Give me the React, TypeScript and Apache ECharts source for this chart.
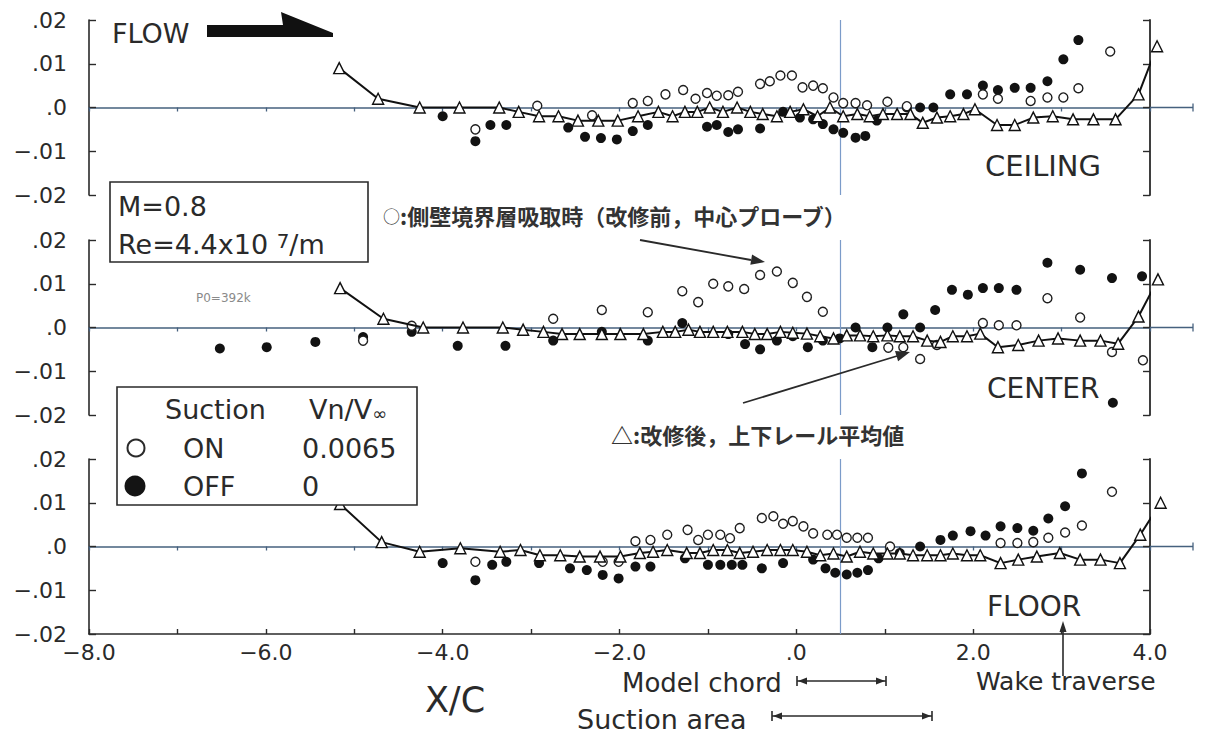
import React, { useEffect, useRef } from "react";
import * as echarts from "echarts";

// ---------- data (x = X/C, y = value) ----------
const ceilingOn: [number, number][] = [
  [-3.63, -0.005], [-2.93, 0.0004], [-2.31, -0.0018], [-1.85, 0.001], [-1.68, 0.0015], [-1.48, 0.003],
  [-1.28, 0.004], [-1.14, 0.002], [-1.01, 0.0033], [-0.9, 0.0027], [-0.77, 0.0028], [-0.66, 0.0036],
  [-0.41, 0.0054], [-0.3, 0.006], [-0.18, 0.0073], [-0.05, 0.0073], [0.07, 0.0046], [0.19, 0.005],
  [0.3, 0.0044], [0.42, 0.0023], [0.53, 0.001], [0.67, 0.001], [0.8, 0.0005], [1.03, 0.0013],
  [1.25, 0.0003], [2.11, 0.003], [2.28, 0.002], [2.65, 0.0015], [2.84, 0.0023], [3.02, 0.0023],
  [3.19, 0.0044], [3.55, 0.0128],
];
const ceilingOff: [number, number][] = [
  [-4.0, -0.002], [-3.63, -0.0077], [-3.46, -0.004], [-3.28, -0.004], [-2.58, -0.0046], [-2.39, -0.0067],
  [-2.21, -0.007], [-2.03, -0.0073], [-1.85, -0.0054], [-1.68, -0.004], [-1.01, -0.0044], [-0.9, -0.004],
  [-0.77, -0.0056], [-0.66, -0.005], [-0.41, -0.0048], [-0.15, -0.001], [0.04, -0.0023], [0.19, -0.0027],
  [0.3, -0.0038], [0.42, -0.005], [0.53, -0.0058], [0.67, -0.0069], [0.78, -0.0065], [0.91, -0.003],
  [1.25, 0.0], [1.4, 0.0], [1.55, 0.0], [1.74, 0.003], [1.93, 0.003], [2.11, 0.005], [2.28, 0.004],
  [2.47, 0.0045], [2.65, 0.0045], [2.84, 0.006], [3.02, 0.011], [3.19, 0.0154],
];
const ceilingAfter: [number, number][] = [
  [-5.17, 0.009], [-4.73, 0.002], [-4.26, 0.0], [-3.81, 0.0], [-3.36, 0.0], [-3.14, -0.001], [-2.91, -0.002],
  [-2.69, -0.002], [-2.47, -0.003], [-2.24, -0.003], [-2.02, -0.003], [-1.79, -0.002], [-1.56, -0.001],
  [-1.4, -0.002], [-1.26, -0.001], [-1.12, -0.001], [-0.98, 0.0], [-0.83, -0.001], [-0.67, 0.0],
  [-0.52, -0.001], [-0.38, -0.0015], [-0.22, -0.002], [-0.07, -0.001], [0.08, -0.0004], [0.24, -0.002],
  [0.38, 0.0], [0.53, -0.002], [0.69, -0.0015], [0.83, -0.002], [0.98, -0.0015], [1.14, -0.0015],
  [1.29, -0.0015], [1.43, -0.0035], [1.59, -0.0023], [1.74, -0.002], [1.89, -0.0015], [2.02, -0.0004],
  [2.27, -0.004], [2.47, -0.004], [2.68, -0.0023], [2.9, -0.002], [3.13, -0.0027], [3.36, -0.0027],
  [3.61, -0.0027], [3.87, 0.003], [4.08, 0.014],
];

const centerOn: [number, number][] = [
  [-4.9, -0.003], [-4.35, 0.0004], [-2.75, 0.002], [-2.2, 0.004], [-1.68, 0.0035], [-1.29, 0.0083],
  [-1.11, 0.0058], [-0.94, 0.01], [-0.77, 0.0094], [-0.59, 0.0088], [-0.41, 0.012], [-0.22, 0.0128],
  [-0.04, 0.0102], [0.12, 0.007], [0.3, 0.0036], [1.04, -0.0046], [1.21, -0.0045], [1.4, -0.0072],
  [1.59, -0.004], [2.11, 0.001], [2.29, 0.0005], [2.49, 0.0005], [2.84, 0.0067], [3.21, 0.0023],
  [3.57, -0.0056], [3.92, -0.0075],
];
const centerOff: [number, number][] = [
  [-6.52, -0.0048], [-5.99, -0.0045], [-5.44, -0.0033], [-4.9, -0.0022], [-4.35, -0.001], [-3.83, -0.0042],
  [-3.29, -0.0042], [-2.75, -0.003], [-2.2, -0.001], [-1.68, -0.003], [-1.29, 0.001], [-0.77, -0.0015],
  [-0.58, -0.0038], [-0.41, -0.005], [-0.22, -0.003], [-0.04, -0.002], [0.13, -0.0045], [0.3, -0.003],
  [0.49, -0.0025], [0.67, 0.0], [0.86, -0.0045], [1.03, 0.0], [1.21, 0.003], [1.4, 0.0], [1.57, 0.004],
  [1.76, 0.0086], [1.94, 0.0075], [2.11, 0.009], [2.29, 0.009], [2.49, 0.0086], [2.84, 0.0148],
  [3.21, 0.0132], [3.57, 0.0113], [3.58, -0.0172], [3.91, 0.0117],
];
const centerAfter: [number, number][] = [
  [-5.16, 0.009], [-4.67, 0.002], [-4.22, 0.0], [-3.77, 0.0], [-3.32, 0.0], [-3.09, -0.0005], [-2.86, -0.001],
  [-2.65, -0.0015], [-2.45, -0.0015], [-2.2, -0.0015], [-1.99, -0.0015], [-1.73, -0.0015], [-1.51, -0.001],
  [-1.37, -0.001], [-1.22, -0.0005], [-1.09, -0.001], [-0.94, -0.001], [-0.78, -0.001], [-0.61, -0.001],
  [-0.47, -0.0015], [-0.33, -0.0015], [-0.18, -0.001], [-0.04, -0.0012], [0.12, -0.0014], [0.27, -0.002],
  [0.42, -0.0025], [0.57, -0.0018], [0.72, -0.0018], [0.87, -0.002], [1.03, -0.0018], [1.17, -0.002],
  [1.32, -0.002], [1.48, -0.003], [1.63, -0.0033], [1.77, -0.002], [1.93, -0.002], [2.08, -0.0014],
  [2.28, -0.0045], [2.51, -0.004], [2.74, -0.003], [2.96, -0.0025], [3.21, -0.003], [3.44, -0.003],
  [3.64, -0.0037], [3.87, 0.0025], [4.09, 0.011],
];

const floorOn: [number, number][] = [
  [-3.63, -0.0035], [-2.19, -0.0035], [-2.01, -0.0035], [-1.82, 0.0012], [-1.65, 0.0015], [-1.46, 0.0027],
  [-1.23, 0.0038], [-1.11, 0.0015], [-1.0, 0.0027], [-0.86, 0.0027], [-0.75, 0.0019], [-0.64, 0.0042],
  [-0.39, 0.0065], [-0.26, 0.0069], [-0.15, 0.0052], [-0.04, 0.0058], [0.08, 0.0046], [0.19, 0.003],
  [0.35, 0.0027], [0.46, 0.0027], [0.57, 0.002], [0.69, 0.002], [0.81, 0.002], [1.06, 0.0],
  [2.31, 0.0008], [2.5, 0.0008], [2.68, 0.001], [2.85, 0.002], [3.04, 0.0032], [3.23, 0.0048],
  [3.57, 0.0125],
];
const floorOff: [number, number][] = [
  [-4.0, -0.0038], [-3.63, -0.0077], [-3.44, -0.0042], [-3.28, -0.0035], [-2.91, -0.0038], [-2.56, -0.005],
  [-2.37, -0.0054], [-2.19, -0.0065], [-2.01, -0.0073], [-1.82, -0.0046], [-1.65, -0.0046], [-1.26, -0.0027],
  [-1.0, -0.0042], [-0.86, -0.0042], [-0.73, -0.0042], [-0.61, -0.0042], [-0.39, -0.005], [-0.15, -0.0038],
  [0.19, -0.003], [0.33, -0.005], [0.44, -0.006], [0.57, -0.0064], [0.69, -0.006], [0.81, -0.0054],
  [0.93, -0.0027], [1.17, -0.0015], [1.4, 0.0], [1.63, 0.0015], [1.77, 0.0025], [1.97, 0.0035],
  [2.14, 0.0025], [2.31, 0.0046], [2.5, 0.0042], [2.68, 0.0036], [2.85, 0.0064], [3.04, 0.0092],
  [3.23, 0.0167],
];
const floorAfter: [number, number][] = [
  [-5.16, 0.0097], [-4.69, 0.001], [-4.26, -0.0012], [-3.8, -0.0004], [-3.35, -0.0012], [-3.12, -0.0008],
  [-2.9, -0.002], [-2.67, -0.002], [-2.45, -0.0023], [-2.22, -0.0023], [-1.99, -0.0023], [-1.77, -0.0015],
  [-1.62, -0.0012], [-1.46, -0.0008], [-1.24, -0.0015], [-1.09, -0.0015], [-0.94, -0.0008], [-0.78, -0.0008],
  [-0.64, -0.0015], [-0.49, -0.0012], [-0.33, -0.0008], [-0.18, -0.0008], [-0.04, -0.0008], [0.12, -0.0012],
  [0.27, -0.002], [0.42, -0.0016], [0.57, -0.0023], [0.72, -0.0012], [0.87, -0.0016], [1.03, -0.0016],
  [1.17, -0.0016], [1.32, -0.002], [1.48, -0.002], [1.63, -0.002], [1.77, -0.0016], [1.93, -0.002],
  [2.08, -0.002], [2.31, -0.0038], [2.51, -0.003], [2.72, -0.0023], [2.98, -0.0015], [3.21, -0.003],
  [3.44, -0.003], [3.66, -0.0038], [3.89, 0.0027], [4.12, 0.01],
];

const panelNames = ["CEILING", "CENTER", "FLOOR"];
const midChordX = 0.5;

// ---------- layout ----------
const W = 1209;
const H = 737;
const GRID_LEFT = 89;
const GRID_W = 1061;
const GRID_H = 175;
const PANEL_TOPS = [20, 240, 459];
const FONT = '"DejaVu Sans", "Liberation Sans", Arial, sans-serif';
const JP = '"Noto Sans CJK JP", "Noto Sans CJK SC", sans-serif';
const INK = "#2a2a2a";
const ZERO = "#46617e";

const fmtY = (v: number) => {
  if (Math.abs(v) < 1e-9) return ".0";
  const s = "." + String(Math.round(Math.abs(v) * 100)).padStart(2, "0");
  return v < 0 ? "\u2212" + s : s;
};
const fmtX = (v: number) => {
  const r = Math.round(v);
  if (r % 2 !== 0) return "";
  if (r === 0) return ".0";
  return (r < 0 ? "\u2212" : "") + Math.abs(r).toFixed(1);
};

const txt = (x: number, y: number, text: string, size: number, extra: any = {}) => ({
  type: "text",
  x,
  y,
  z: 20,
  style: {
    text,
    fontSize: size,
    fontFamily: FONT,
    fill: INK,
    align: "left",
    verticalAlign: "middle",
    ...extra,
  },
});
const ln = (x1: number, y1: number, x2: number, y2: number, w = 1.5, color = INK) => ({
  type: "line",
  z: 20,
  shape: { x1, y1, x2, y2 },
  style: { stroke: color, lineWidth: w },
});
const poly = (points: number[][], color = INK) => ({
  type: "polygon",
  z: 20,
  shape: { points },
  style: { fill: color },
});
const dimArrow = (x1: number, x2: number, y: number) => [
  ln(x1, y, x2, y, 1.6),
  ln(x1, y - 5, x1, y + 5, 1.6),
  ln(x2, y - 5, x2, y + 5, 1.6),
  poly([[x1 + 1, y], [x1 + 10, y - 3.5], [x1 + 10, y + 3.5]]),
  poly([[x2 - 1, y], [x2 - 10, y - 3.5], [x2 - 10, y + 3.5]]),
];

function buildOption() {
  const panels = [
    { on: ceilingOn, off: ceilingOff, after: ceilingAfter },
    { on: centerOn, off: centerOff, after: centerAfter },
    { on: floorOn, off: floorOff, after: floorAfter },
  ];

  const grid = PANEL_TOPS.map((top) => ({ left: GRID_LEFT, top, width: GRID_W, height: GRID_H }));

  const xAxis: any[] = PANEL_TOPS.map((_, i) => ({
    type: "value",
    gridIndex: i,
    min: -8,
    max: 4,
    interval: 1,
    position: "top",
    axisLine: { show: true, onZero: true, lineStyle: { color: ZERO, width: 1.5 } },
    axisTick: { show: true, inside: true, length: 4, lineStyle: { color: ZERO, width: 1.3 } },
    axisLabel: { show: false },
    splitLine: { show: false },
  }));
  xAxis.push({
    type: "value",
    gridIndex: 2,
    min: -8,
    max: 4,
    interval: 1,
    position: "bottom",
    axisLine: { show: true, onZero: false, lineStyle: { color: INK, width: 1.6 } },
    axisTick: { show: true, inside: true, length: 5, lineStyle: { color: INK, width: 1.4 } },
    axisLabel: { show: true, formatter: fmtX, fontSize: 22, fontFamily: FONT, color: INK, margin: 7 },
    splitLine: { show: false },
  });

  const yBase = (i: number) => ({
    type: "value",
    gridIndex: i,
    min: -0.02,
    max: 0.02,
    interval: 0.01,
    splitLine: { show: false },
  });
  const yAxis: any[] = [
    ...PANEL_TOPS.map((_, i) => ({
      ...yBase(i),
      position: "left",
      axisLine: { show: true, onZero: false, lineStyle: { color: INK, width: 1.6 } },
      axisTick: { show: true, inside: true, length: 7, lineStyle: { color: INK, width: 1.4 } },
      axisLabel: { show: true, formatter: fmtY, fontSize: 22, fontFamily: FONT, color: INK, margin: 22 },
    })),
    ...PANEL_TOPS.map((_, i) => ({
      ...yBase(i),
      position: "right",
      axisLine: { show: true, onZero: false, lineStyle: { color: INK, width: 1.8 } },
      axisTick: { show: true, inside: true, length: 7, lineStyle: { color: INK, width: 1.4 } },
      axisLabel: { show: false },
    })),
  ];

  const series: any[] = [];
  panels.forEach((p, i) => {
    series.push({
      type: "scatter",
      name: "OFF",
      xAxisIndex: i,
      yAxisIndex: i,
      data: p.off,
      symbol: "circle",
      symbolSize: 10,
      itemStyle: { color: "#121212", opacity: 1 },
      z: 3,
      markLine: {
        silent: true,
        symbol: "none",
        label: { show: false },
        lineStyle: { color: "#7b9bc9", width: 1.2, type: "solid" },
        data: [{ xAxis: midChordX }],
        z: 1,
      },
    });
    series.push({
      type: "scatter",
      name: "ON",
      xAxisIndex: i,
      yAxisIndex: i,
      data: p.on,
      symbol: "circle",
      symbolSize: 9,
      itemStyle: { color: "#ffffff", borderColor: "#1e1e1e", borderWidth: 1.4, opacity: 1 },
      z: 4,
    });
    series.push({
      type: "line",
      name: "AFTER",
      xAxisIndex: i,
      yAxisIndex: i,
      data: p.after,
      symbol: "triangle",
      symbolSize: 11,
      clip: false,
      itemStyle: { color: "#ffffff", borderColor: "#111", borderWidth: 1.4 },
      lineStyle: { color: "#111", width: 2 },
      z: 5,
    });
  });

  const graphic: any[] = [];
  // zero-line extension beyond right bracket
  PANEL_TOPS.forEach((top) => {
    const y0 = top + GRID_H / 2;
    graphic.push(ln(GRID_LEFT + GRID_W, y0, GRID_LEFT + GRID_W + 43, y0, 1.5, ZERO));
    graphic.push(ln(GRID_LEFT + GRID_W + 43, y0 - 4, GRID_LEFT + GRID_W + 43, y0 + 4, 1.3, ZERO));
  });

  // FLOW
  graphic.push(txt(112, 33, "FLOW", 27));
  graphic.push(poly([[207, 25], [283, 25], [281, 12], [333, 33], [333, 37], [207, 37]], "#111"));

  // M / Re box
  graphic.push({
    type: "rect",
    z: 19,
    shape: { x: 110, y: 182, width: 258, height: 80 },
    style: { fill: "#fff", stroke: INK, lineWidth: 1.6 },
  });
  graphic.push(txt(118, 206, "M=0.8", 27));
  graphic.push({
    type: "text",
    x: 118,
    y: 244,
    z: 20,
    style: {
      text: "{a|Re=4.4x10 }{s|7}{a|/m}",
      verticalAlign: "middle",
      fill: INK,
      rich: {
        a: { fontSize: 27, fontFamily: FONT, fill: INK },
        s: { fontSize: 20, fontFamily: FONT, fill: INK, verticalAlign: "top" },
      },
    },
  });

  graphic.push(txt(196, 298, "P0=392k", 12, { fill: "#8a8a8a" }));

  // Japanese annotations
  graphic.push({
    type: "text",
    x: 383,
    y: 215,
    z: 20,
    style: {
      text: "{c|○}{t|:側壁境界層吸取時（改修前，中心プローブ）}",
      verticalAlign: "middle",
      fill: "#333",
      rich: {
        c: { fontSize: 17, fontFamily: JP, fill: "#333" },
        t: { fontSize: 22, fontFamily: JP, fontWeight: "bold", fill: "#333" },
      },
    },
  });
  graphic.push(ln(640, 240, 751, 260, 1.8));
  graphic.push(poly([[765, 262], [750.3, 264.8], [752.1, 254.5]]));
  graphic.push(txt(611, 434, "△:改修後，上下レール平均値", 22, { fontFamily: JP, fontWeight: "bold", fill: "#333" }));
  graphic.push(ln(743, 403, 897, 356, 1.8));
  graphic.push(poly([[910, 352], [898.1, 361.2], [895.0, 351.0]]));

  // Legend box
  graphic.push({
    type: "rect",
    z: 19,
    shape: { x: 117, y: 387, width: 300, height: 118 },
    style: { fill: "#fff", stroke: INK, lineWidth: 1.6 },
  });
  graphic.push(txt(165, 409, "Suction", 27));
  graphic.push({
    type: "text",
    x: 309,
    y: 409,
    z: 20,
    style: {
      text: "{a|Vn/V}{b|∞}",
      verticalAlign: "middle",
      fill: INK,
      rich: {
        a: { fontSize: 27, fontFamily: FONT, fill: INK },
        b: { fontSize: 18, fontFamily: FONT, fill: INK, verticalAlign: "bottom" },
      },
    },
  });
  graphic.push({
    type: "circle",
    z: 20,
    shape: { cx: 136, cy: 448, r: 8.5 },
    style: { fill: "#fff", stroke: INK, lineWidth: 2 },
  });
  graphic.push(txt(183, 448, "ON", 27));
  graphic.push(txt(302, 448, "0.0065", 27));
  graphic.push({
    type: "circle",
    z: 20,
    shape: { cx: 135, cy: 486, r: 10.5 },
    style: { fill: "#141414" },
  });
  graphic.push(txt(183, 486, "OFF", 27));
  graphic.push(txt(302, 486, "0", 27));

  // panel names
  graphic.push(txt(985, 166, panelNames[0], 29));
  graphic.push(txt(987, 388, panelNames[1], 28));
  graphic.push(txt(987, 606, panelNames[2], 28));

  // bottom annotations
  graphic.push(txt(455, 700, "X/C", 35, { align: "center" }));
  graphic.push(txt(622, 683, "Model chord", 26));
  graphic.push(...dimArrow(797, 886, 681));
  graphic.push(txt(577, 719, "Suction area", 27));
  graphic.push(...dimArrow(772, 932, 716));
  graphic.push(txt(976, 681, "Wake traverse", 25));
  graphic.push(ln(1063, 676, 1063, 630, 1.6));
  graphic.push(poly([[1063, 621], [1059.5, 632], [1066.5, 632]]));

  return {
    animation: false,
    backgroundColor: "#ffffff",
    grid,
    xAxis,
    yAxis,
    series,
    graphic,
  };
}

export default function App() {
  const ref = useRef<HTMLDivElement>(null);
  useEffect(() => {
    if (!ref.current) return;
    const chart = echarts.init(ref.current, undefined, { renderer: "svg" });
    chart.setOption(buildOption() as any);
    return () => chart.dispose();
  }, []);
  return (
    <div
      ref={ref}
      style={{ position: "absolute", left: 0, top: 0, width: W, height: H, background: "#fff" }}
    />
  );
}
